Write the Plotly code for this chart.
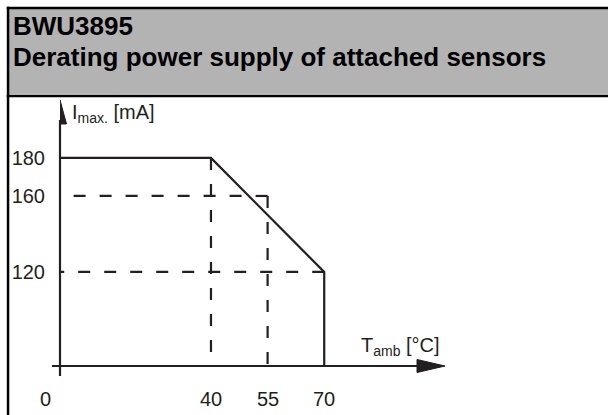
import plotly.graph_objects as go

# ---------------- data ----------------
curve_temps = [0, 40, 70, 70]          # °C
curve_currents = [180, 180, 120, 0]    # mA (last point drops to the T axis)
guide_v_temps = [40, 55]               # dashed verticals
guide_v_currents = [180, 160]
guide_h_currents = [160, 120]          # dashed horizontals
guide_h_temps = [55, 70]
x_ticks = [40, 55, 70]
y_ticks = [120, 160, 180]
header_line1 = "BWU3895"
header_line2 = "Derating power supply of attached sensors"
y_label = "I<sub>max.</sub> [mA]"
x_label = "T<sub>amb</sub> [°C]"
origin_label = "0"

# ---------------- layout geometry ----------------
W, H = 608, 415
ML, MR, MT, MB = 60, 163, 100, 49
PW, PH = W - ML - MR, H - MT - MB
X_RANGE = [0, 102]
Y_RANGE = [70.5, 210.5]

INK = "#231f20"
FONT = "Liberation Sans, Arial, Helvetica, sans-serif"
LABEL_ROW = 399  # pixel row of the T tick labels


def px(xp):
    return (xp - ML) / PW


def py(yp):
    return (H - MB - yp) / PH


fig = go.Figure()

line_style = dict(color=INK, width=2.2)
dash_style = dict(color=INK, width=2.2, dash="12px,14px")

for t, c in zip(guide_h_temps, guide_h_currents):
    fig.add_trace(go.Scatter(x=[t, 0], y=[c, c], mode="lines", line=dash_style,
                             hoverinfo="skip", showlegend=False))
for t, c in zip(guide_v_temps, guide_v_currents):
    fig.add_trace(go.Scatter(x=[t, t], y=[c, 0], mode="lines", line=dash_style,
                             hoverinfo="skip", showlegend=False))
fig.add_trace(go.Scatter(x=curve_temps, y=curve_currents, mode="lines",
                         line=line_style, hoverinfo="skip", showlegend=False))

AX_Y = H - MB  # pixel row of the T axis
shapes = []
shapes.append(dict(type="rect", xref="paper", yref="paper", x0=px(8), x1=px(640),
                   y0=py(8), y1=py(96), fillcolor="#b3b3b3", line_width=0, layer="below"))
shapes.append(dict(type="rect", xref="paper", yref="paper", x0=px(6.8), x1=px(640),
                   y0=py(6.8), y1=py(9.3), fillcolor="#000000", line_width=0))
shapes.append(dict(type="rect", xref="paper", yref="paper", x0=px(6.8), x1=px(9.3),
                   y0=py(6.8), y1=py(440), fillcolor="#000000", line_width=0))
shapes.append(dict(type="rect", xref="paper", yref="paper", x0=px(6.8), x1=px(640),
                   y0=py(95), y1=py(97.3), fillcolor="#000000", line_width=0))
shapes.append(dict(type="line", xref="paper", yref="paper", x0=px(52), x1=px(420),
                   y0=0, y1=0, line=dict(color=INK, width=2.2)))
shapes.append(dict(type="line", xref="paper", yref="paper", x0=0, x1=0,
                   y0=py(AX_Y + 10), y1=py(MT + 20), line=dict(color=INK, width=2.2)))
shapes.append(dict(type="path", xref="x", yref="paper", xsizemode="pixel", ysizemode="pixel",
                   xanchor=X_RANGE[1], yanchor=0, path="M0,0 L-28,6.5 L-28,-6.5 Z",
                   fillcolor=INK, line=dict(color=INK, width=1)))
shapes.append(dict(type="path", xref="x", yref="paper", xsizemode="pixel", ysizemode="pixel",
                   xanchor=0, yanchor=1, path="M0,0 L-6.5,-24 L6.5,-24 Z",
                   fillcolor=INK, line=dict(color=INK, width=1)))

label_font = dict(family=FONT, size=20, color=INK)
annotations = [
    dict(text=f"<b>{header_line1}</b>", xref="paper", yref="paper", x=px(11), y=py(26),
         xanchor="left", yanchor="middle", showarrow=False,
         font=dict(family=FONT, size=26, color="#000000")),
    dict(text=f"<b>{header_line2}</b>", xref="paper", yref="paper", x=px(11), y=py(57),
         xanchor="left", yanchor="middle", showarrow=False,
         font=dict(family=FONT, size=26, color="#000000")),
    dict(text=y_label, xref="paper", yref="paper", x=px(70), y=py(113),
         xanchor="left", yanchor="middle", showarrow=False, font=label_font),
    dict(text=x_label, xref="paper", yref="paper", x=px(359), y=py(AX_Y - 20),
         xanchor="left", yanchor="middle", showarrow=False, font=label_font),
    dict(text=origin_label, xref="x", yref="paper", x=X_RANGE[0], xshift=-15, y=py(LABEL_ROW),
         xanchor="center", yanchor="middle", showarrow=False, font=label_font),
]
# temperature tick labels, placed on the data scale of the T axis
for t in x_ticks:
    annotations.append(dict(text=str(t), xref="x", yref="paper", x=t, y=py(LABEL_ROW),
                            xanchor="center", yanchor="middle", showarrow=False,
                            font=label_font))

fig.update_layout(
    width=W, height=H,
    margin=dict(l=ML, r=MR, t=MT, b=MB, pad=0),
    paper_bgcolor="white", plot_bgcolor="white",
    shapes=shapes, annotations=annotations,
    font=dict(family=FONT, size=20, color=INK),
    xaxis=dict(range=X_RANGE, tickvals=x_ticks, showticklabels=False, ticks="",
               showgrid=False, zeroline=False, showline=False, fixedrange=True),
    yaxis=dict(range=Y_RANGE, tickvals=y_ticks, ticks="outside", ticklen=10,
               tickcolor="rgba(0,0,0,0)", showgrid=False, zeroline=False, showline=False,
               tickfont=label_font, fixedrange=True),
)

fig.write_html("out.html", config={"displayModeBar": False},
               post_script="document.body.style.margin='0';document.body.style.overflow='hidden';")
